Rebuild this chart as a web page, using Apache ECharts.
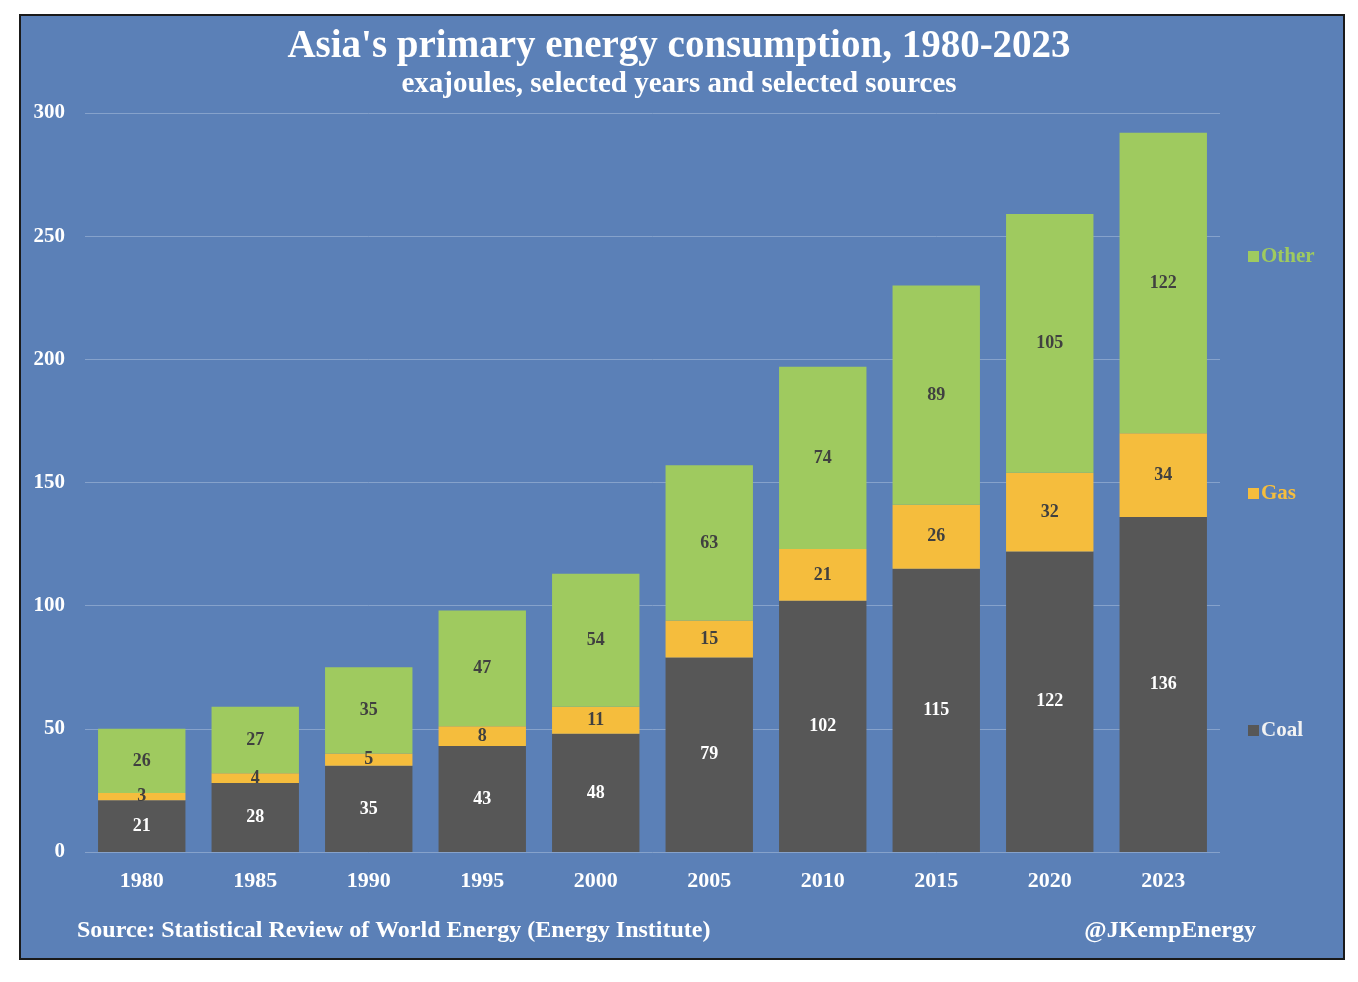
<!DOCTYPE html>
<html><head><meta charset="utf-8">
<script src="https://cdn.jsdelivr.net/npm/echarts@6/dist/echarts.min.js"></script>
<style>html,body{margin:0;padding:0;background:#fff}#c{width:1358px;height:982px}</style>
</head><body><div id="c"></div>
<script>
const years = ['1980','1985','1990','1995','2000','2005','2010','2015','2020','2023'];
const coal  = [21, 28, 35, 43, 48, 79, 102, 115, 122, 136];
const gas   = [3, 4, 5, 8, 11, 15, 21, 26, 32, 34];
const other = [26, 27, 35, 47, 54, 63, 74, 89, 105, 122];
const yTicks = [0, 50, 100, 150, 200, 250, 300];

const FONT = '"Liberation Serif","DejaVu Serif",serif';
const chart = echarts.init(document.getElementById('c'), null, {renderer:'canvas'});
function lbl(color){
  return {show:true, position:'inside', color:color, fontFamily:FONT, fontSize:18, fontWeight:'bold'};
}
chart.setOption({
  backgroundColor:'#ffffff',
  animation:false,
  graphic:[
    {type:'rect', z:-10, silent:true, shape:{x:20,y:15,width:1324,height:944},
     style:{fill:'#5b80b7', stroke:'#1a1a1a', lineWidth:2}},
    {type:'text', z:10, left:77, top:919, style:{text:'Source: Statistical Review of World Energy (Energy Institute)', fill:'#ffffff', font:'bold 24px '+FONT}},
    {type:'text', z:10, right:102, top:919, style:{text:'@JKempEnergy', fill:'#ffffff', font:'bold 24px '+FONT}}
  ],
  title:{
    text:"Asia's primary energy consumption, 1980-2023",
    subtext:'exajoules, selected years and selected sources',
    left:'center', top:22, itemGap:4,
    textStyle:{color:'#ffffff', fontFamily:FONT, fontSize:39, fontWeight:'bold'},
    subtextStyle:{color:'#ffffff', fontFamily:FONT, fontSize:29, fontWeight:'bold'}
  },
  legend:{
    orient:'vertical', left:1243, top:241, itemGap:216, itemWidth:11, itemHeight:11,
    icon:'rect', data:['Other','Gas','Coal'],
    textStyle:{fontFamily:FONT, fontSize:21, fontWeight:'bold', padding:[0,0,0,-3]},
    selectedMode:false
  },
  grid:{left:85, right:138, top:113, bottom:130, containLabel:false},
  xAxis:{
    type:'category', data:years,
    axisLine:{show:false}, axisTick:{show:false},
    axisLabel:{color:'#ffffff', fontFamily:FONT, fontSize:22, fontWeight:'bold', margin:18}
  },
  yAxis:{
    type:'value', min:0, max:300, interval:50,
    axisLine:{show:false}, axisTick:{show:false},
    axisLabel:{color:'#ffffff', fontFamily:FONT, fontSize:21, fontWeight:'bold', margin:20,
      formatter:v=> yTicks.includes(v) ? String(v) : ''},
    splitLine:{lineStyle:{color:'#86a2cb', width:1}}
  },
  series:[
    {name:'Coal', type:'bar', stack:'t', data:coal, barWidth:'77%',
     itemStyle:{color:'#575757'}, label:lbl('#ffffff')},
    {name:'Gas', type:'bar', stack:'t', data:gas,
     itemStyle:{color:'#f5bd3d'}, label:lbl('#404040')},
    {name:'Other', type:'bar', stack:'t', data:other,
     itemStyle:{color:'#9fca5f'}, label:lbl('#404040')}
  ]
});
chart.setOption({legend:{data:[
  {name:'Other', textStyle:{color:'#9fca5f'}},
  {name:'Gas', textStyle:{color:'#f5bd3d'}},
  {name:'Coal', textStyle:{color:'#f2f2f2'}}
]}});
</script></body></html>
